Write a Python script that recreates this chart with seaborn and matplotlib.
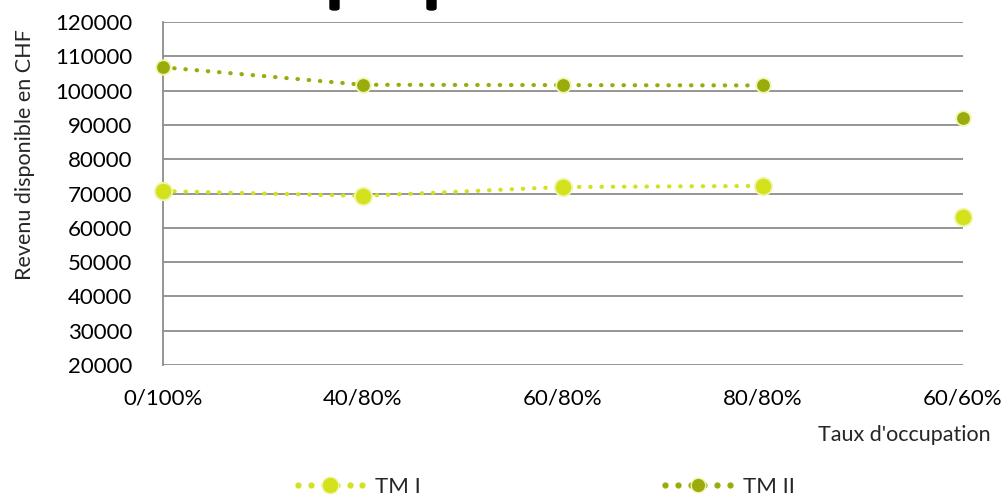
import matplotlib
matplotlib.use("Agg")
import matplotlib.pyplot as plt
import seaborn as sns
import pandas as pd
from matplotlib.lines import Line2D
from matplotlib.patches import FancyBboxPatch
from matplotlib.legend_handler import HandlerTuple, HandlerLine2D

categories = ["0/100%", "40/80%", "60/80%", "80/80%", "60/60%"]
tm1 = [70700, 69300, 71900, 72200, 63100]
tm2 = [106800, 101700, 101600, 101500, 92000]
yticks = list(range(20000, 120001, 10000))

c1 = "#d3e21c"
c2 = "#9bab0c"
edge = "#eef7b0"
dots = (0, (0.1, 2.6))

sns.set_style("white")
plt.rcParams["font.family"] = ["Lato", "DejaVu Sans"]

fig = plt.figure(figsize=(10.08, 4.97), dpi=100)
ax = fig.add_axes([163/1008, 1-365/497, 800/1008, 343/497])

x = list(range(len(categories)))
df = pd.DataFrame({"x": x * 2, "y": tm1 + tm2,
                   "s": ["TM I"] * 5 + ["TM II"] * 5})
line_df = df[df["x"] < 4]

for name, col, ms in [("TM I", c1, 12.5), ("TM II", c2, 10.5)]:
    sub = line_df[line_df["s"] == name]
    sns.lineplot(data=sub, x="x", y="y", ax=ax, color=col, lw=3.0,
                 linestyle=dots, zorder=3, legend=False)
    ax.lines[-1].set_dash_capstyle("round")
    sub2 = df[df["s"] == name]
    ax.scatter(sub2["x"], sub2["y"], s=ms**2, color=col, edgecolor=edge,
               linewidth=1.3, zorder=4, clip_on=False)

ax.set_xlim(0, 4)
ax.set_ylim(20000, 120000)
ax.set_yticks(yticks)
ax.set_xticks(x)
ax.set_xticklabels(categories)
ax.yaxis.grid(True, color="#8c8c8c", lw=1.3)
ax.xaxis.grid(False)
for s in ["top", "right", "bottom"]:
    ax.spines[s].set_visible(False)
ax.spines["left"].set_color("#8c8c8c")
ax.spines["left"].set_linewidth(1.3)
ax.tick_params(axis="both", labelsize=16, length=0, colors="black")
ax.tick_params(axis="y", pad=22)
ax.tick_params(axis="x", pad=17)
ax.set_xlabel("")
ax.set_ylabel("")
fig.text(25/1008, 1-155/497, "Revenu disponible en CHF", rotation=90,
         ha="center", va="center", fontsize=15.5)
fig.text(991/1008, 1-435/497, "Taux d'occupation", ha="right", va="center",
         fontsize=15.5)

# cut-off marks at the very top
for px in (330, 427):
    fig.patches.append(FancyBboxPatch((px/1008, 1-10/497), 9/1008, 14/497,
                                      boxstyle="round,pad=0,rounding_size=0.004",
                                      transform=fig.transFigure,
                                      color="black", zorder=10))

hmap = {tuple: HandlerTuple(ndivide=1, pad=0)}

def entry(col, ms):
    ln = Line2D([0], [0], color=col, lw=0, marker="o", markersize=4.5,
                markerfacecolor=col, markeredgewidth=0)
    mk = Line2D([0], [0], color=col, lw=0, marker="o", markersize=ms,
                markerfacecolor=col, markeredgecolor=edge)
    hmap[ln] = HandlerLine2D(numpoints=6, marker_pad=0)
    hmap[mk] = HandlerLine2D(numpoints=1)
    return (ln, mk)

handles = [entry(c1, 12), entry(c2, 10.5)]
fig.legend(handles, ["TM I", "TM II"], loc="center", handler_map=hmap,
           bbox_to_anchor=(0.542, 1-487/497), ncol=2, frameon=False,
           fontsize=16, columnspacing=11.0, handlelength=2.9,
           handletextpad=0.58, borderaxespad=0, borderpad=0)

fig.savefig("out.png", dpi=100)
